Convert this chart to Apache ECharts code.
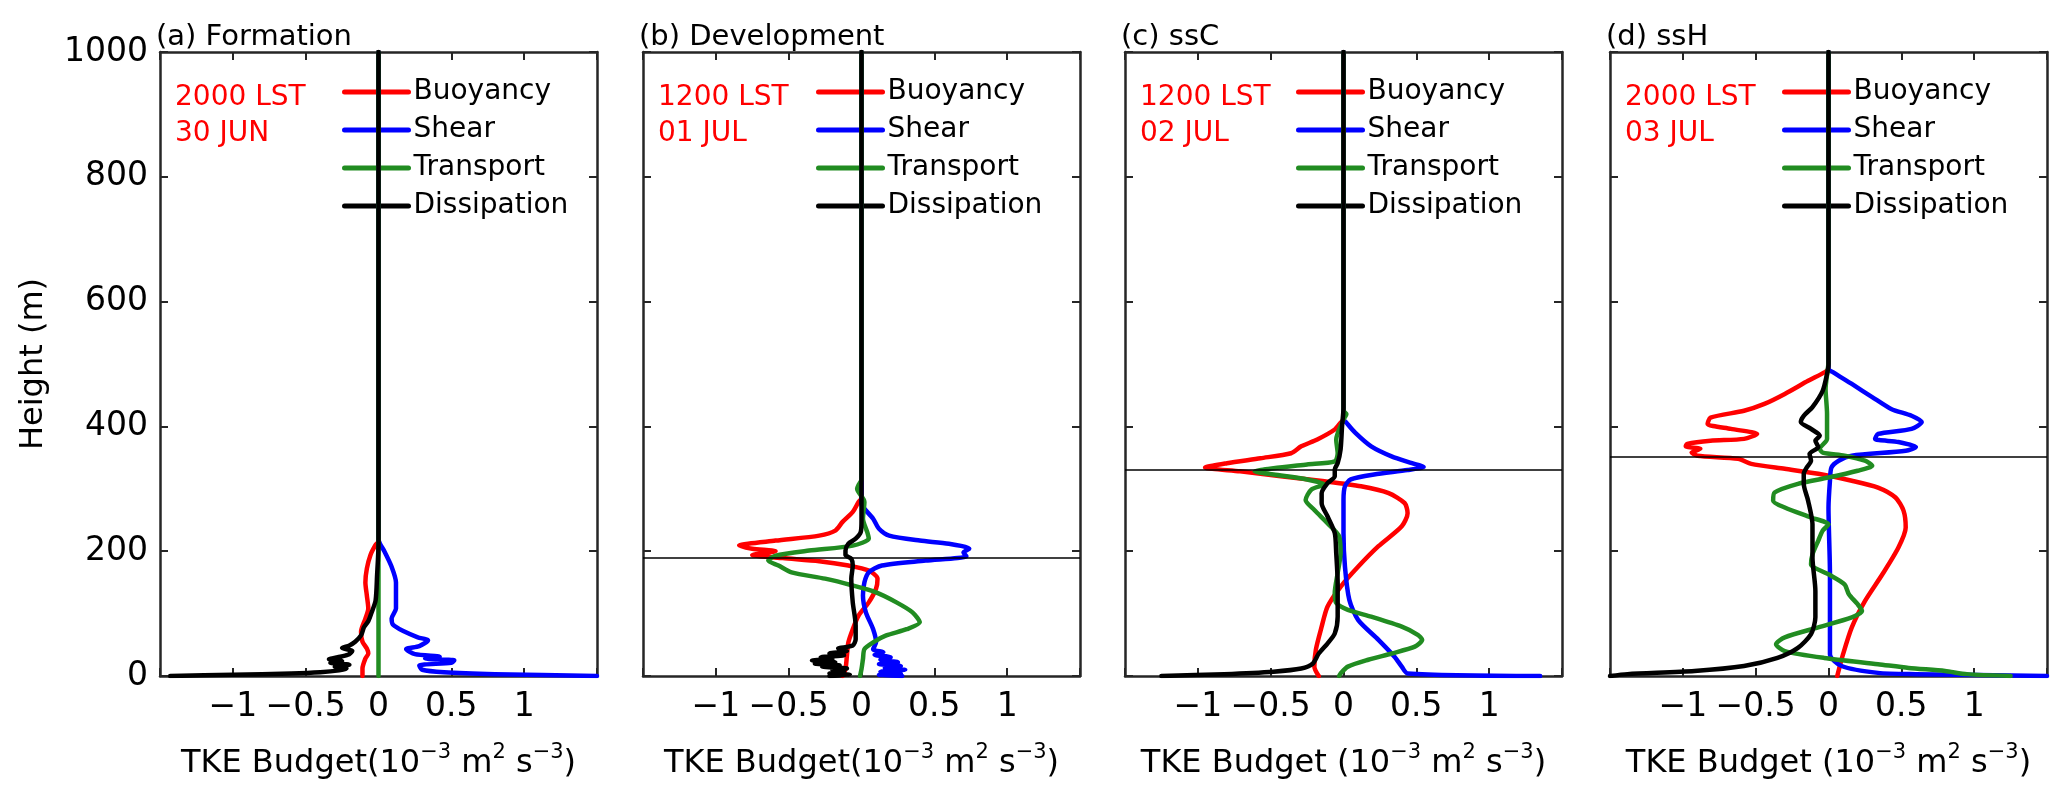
<!DOCTYPE html>
<html><head><meta charset="utf-8">
<script src="https://cdn.jsdelivr.net/npm/echarts@6/dist/echarts.min.js"></script>
<style>html,body{margin:0;padding:0;background:#fff}#c{width:2067px;height:802px}</style>
</head><body><div id="c"></div>
<script>
// ---------- data ----------
const panelTitles = ['(a) Formation', '(b) Development', '(c) ssC', '(d) ssH'];
const timeLabels = ['2000 LST\n30 JUN', '1200 LST\n01 JUL', '1200 LST\n02 JUL', '2000 LST\n03 JUL'];
const seriesNames = ['Buoyancy', 'Shear', 'Transport', 'Dissipation'];
const xTickLabels = [-1, -0.5, 0, 0.5, 1];
const yTickLabels = [0, 200, 400, 600, 800, 1000];
const pblHeights = [null, 189, 331, 352];
const xLabelSpaced = [false, false, true, true];

// [budget value (1e-3 m2 s-3), height (m)]
const aBuoyancy = [[-0.11,0],[-0.11,12],[-0.09,28],[-0.07,36],[-0.08,44],[-0.11,55],[-0.12,71],[-0.09,92],[-0.07,108],[-0.08,129],[-0.09,150],[-0.08,172],[-0.055,194],[-0.02,210],[0,216],[0,1000]];
const aShear = [[1.5,0],[0.8,3],[0.45,6],[0.3,10],[0.28,17],[0.5,21],[0.52,25],[0.32,28],[0.42,31],[0.25,35],[0.19,43],[0.28,48],[0.34,57],[0.27,62],[0.17,72],[0.1,82],[0.09,92],[0.12,108],[0.12,130],[0.12,150],[0.09,175],[0.04,200],[0.01,212],[0,220],[0,1000]];
const aTransport = [[0,0],[0,300],[0,1000]];
const aDissipation = [[-1.43,0],[-1.0,2],[-0.6,4],[-0.4,6],[-0.27,9],[-0.22,12],[-0.3,15],[-0.2,18],[-0.33,21],[-0.25,24],[-0.34,27],[-0.28,30],[-0.21,34],[-0.18,40],[-0.25,45],[-0.2,49],[-0.16,55],[-0.12,65],[-0.1,78],[-0.07,88],[-0.05,100],[-0.02,121],[-0.01,160],[0,212],[0,1000]];

const bBuoyancy = [[-0.13,0],[-0.11,11],[-0.1,33],[-0.09,54],[-0.06,75],[-0.02,97],[0.05,118],[0.10,140],[0.11,156],[0.05,169],[-0.09,177],[-0.29,184],[-0.54,189],[-0.75,194],[-0.59,200],[-0.75,204],[-0.84,209],[-0.59,217],[-0.29,225],[-0.18,233],[-0.13,247],[-0.06,263],[-0.02,279],[0,285],[0,1000]];
const bShear = [[0.28,0],[0.12,2],[0.27,4],[0.13,7],[0.3,10],[0.16,13],[0.27,16],[0.12,19],[0.25,22],[0.13,26],[0.2,30],[0.09,34],[0.15,38],[0.08,43],[0.10,54],[0.08,75],[0.03,102],[0.01,129],[0.02,150],[0.05,166],[0.14,177],[0.44,185],[0.72,192],[0.70,198],[0.74,204],[0.60,212],[0.40,217],[0.19,225],[0.12,236],[0.08,252],[0.02,268],[0,275],[0,1000]];
const bTransport = [[-0.01,0],[0,11],[0.01,27],[0.02,43],[0.08,54],[0.17,65],[0.31,75],[0.40,86],[0.35,102],[0.24,118],[0.10,134],[-0.06,145],[-0.25,156],[-0.48,166],[-0.57,177],[-0.64,185],[-0.59,193],[-0.36,201],[-0.06,209],[0.05,220],[0.04,230],[0.01,252],[0.02,279],[-0.03,300],[-0.02,306],[0,315],[0,1000]];
const bDissipation = [[-0.22,0],[-0.08,2],[-0.22,4],[-0.12,7],[-0.2,10],[-0.1,12],[-0.27,15],[-0.15,17],[-0.32,20],[-0.18,22],[-0.34,25],[-0.2,27],[-0.28,30],[-0.12,33],[-0.22,36],[-0.1,40],[-0.16,44],[-0.06,49],[-0.04,59],[-0.04,81],[-0.06,118],[-0.07,156],[-0.06,177],[-0.07,188],[-0.11,194],[-0.11,201],[-0.09,212],[-0.04,220],[-0.005,231],[0,250],[0,1000]];

const cBuoyancy = [[-0.17,0],[-0.20,15],[-0.19,42],[-0.15,79],[-0.11,111],[-0.02,143],[0.10,175],[0.24,208],[0.40,240],[0.44,261],[0.42,277],[0.31,293],[0.12,304],[-0.13,312],[-0.43,320],[-0.71,328],[-0.95,334],[-0.80,341],[-0.57,349],[-0.36,357],[-0.29,368],[-0.18,379],[-0.06,395],[-0.02,406],[0,412],[0,1000]];
const cShear = [[1.35,0],[0.44,4],[0.40,15],[0.35,31],[0.24,58],[0.10,90],[0.04,122],[0.01,175],[0,229],[0,282],[0.01,304],[0.05,315],[0.21,323],[0.44,330],[0.55,335],[0.47,341],[0.33,352],[0.19,368],[0.08,390],[0.02,406],[0,412],[0,1000]];
const cTransport = [[-0.03,0],[-0.02,4],[0.03,15],[0.17,26],[0.33,36],[0.49,47],[0.54,58],[0.51,66],[0.40,79],[0.19,95],[0.03,106],[-0.05,117],[-0.06,133],[-0.04,165],[-0.02,197],[-0.03,224],[-0.11,245],[-0.20,266],[-0.26,282],[-0.22,299],[-0.13,307],[-0.25,315],[-0.48,323],[-0.61,328],[-0.48,333],[-0.25,339],[-0.06,344],[-0.04,357],[-0.05,379],[0,411],[0.02,420],[0,425],[0,1000]];
const cDissipation = [[-1.25,0],[-0.82,3],[-0.48,7],[-0.29,12],[-0.21,20],[-0.17,36],[-0.11,52],[-0.06,68],[-0.04,95],[-0.04,149],[-0.05,197],[-0.06,229],[-0.11,256],[-0.15,277],[-0.15,293],[-0.11,309],[-0.06,320],[-0.06,331],[-0.04,341],[-0.02,363],[-0.01,400],[0,430],[0,1000]];

const dBuoyancy = [[0.06,0],[0.10,35],[0.16,78],[0.25,120],[0.37,163],[0.48,206],[0.53,238],[0.515,265],[0.46,286],[0.34,302],[0.16,313],[-0.07,324],[-0.30,332],[-0.53,340],[-0.62,348],[-0.90,353],[-0.94,358],[-0.88,364],[-0.98,368],[-0.97,372],[-0.81,377],[-0.58,380],[-0.49,388],[-0.67,396],[-0.83,404],[-0.81,414],[-0.58,425],[-0.44,436],[-0.30,452],[-0.14,473],[-0.025,487],[0,492],[0,1000]];
const dShear = [[1.5,0],[0.6,3],[0.34,5],[0.09,16],[0.01,35],[0.01,163],[0,270],[0.01,313],[0.02,334],[0.07,345],[0.16,353],[0.53,361],[0.60,367],[0.48,375],[0.32,380],[0.34,388],[0.57,396],[0.64,407],[0.57,417],[0.43,428],[0.30,447],[0.16,468],[0.03,487],[0,492],[0,1000]];
const dTransport = [[1.25,0],[0.95,3],[0.80,8],[0.55,13],[0.34,19],[-0.03,29],[-0.30,40],[-0.36,51],[-0.30,62],[-0.07,78],[0.16,94],[0.23,104],[0.20,115],[0.14,131],[0.11,147],[0,163],[-0.12,179],[-0.11,195],[-0.07,217],[-0.04,233],[0,243],[-0.12,254],[-0.30,270],[-0.38,281],[-0.37,294],[-0.21,308],[0,318],[0.20,329],[0.30,337],[0.25,345],[0.11,353],[-0.04,358],[-0.06,364],[-0.01,380],[-0.01,420],[-0.02,460],[0,505],[0,1000]];
const dDissipation = [[-1.5,0],[-1.38,3],[-0.92,8],[-0.58,16],[-0.35,29],[-0.21,45],[-0.12,67],[-0.09,94],[-0.09,136],[-0.11,190],[-0.11,243],[-0.14,281],[-0.17,308],[-0.17,324],[-0.15,334],[-0.12,345],[-0.13,356],[-0.07,367],[-0.09,377],[-0.06,385],[-0.12,396],[-0.19,407],[-0.17,417],[-0.11,431],[-0.04,457],[-0.01,484],[0,500],[0,1000]];

const panelData = [
  [aBuoyancy, aShear, aTransport, aDissipation],
  [bBuoyancy, bShear, bTransport, bDissipation],
  [cBuoyancy, cShear, cTransport, cDissipation],
  [dBuoyancy, dShear, dTransport, dDissipation]
];

// ---------- layout / style ----------
const FONT = 'DejaVu Sans';
const lineColors = ['#ff0000', '#0000ff', '#218c21', '#000000'];
const gridLeft = [160, 643, 1125, 1610];
const gridTop = 52, gridW = 437, gridH = 624;
const legendLeft = [342, 816, 1296, 1782];
const axisColor = '#262626';

function fmtTick(v) {
  if (!xTickLabels.includes(v)) return '';
  return v < 0 ? '\u2212' + Math.abs(v) : String(v);
}

const grids = [], xAxes = [], yAxes = [], series = [], titles = [], legends = [];
for (let i = 0; i < 4; i++) {
  grids.push({ left: gridLeft[i], top: gridTop, width: gridW, height: gridH });
  const common = {
    type: 'value', gridIndex: i, min: -1.5, max: 1.5, interval: 0.5,
    splitLine: { show: false },
    axisLine: { show: true, onZero: false, lineStyle: { color: axisColor, width: 2.5 } },
    axisTick: { show: true, inside: true, length: 8, lineStyle: { color: axisColor, width: 2 } }
  };
  const sp = xLabelSpaced[i] ? ' ' : '';
  xAxes.push(Object.assign({}, common, {
    position: 'bottom',
    axisLabel: { show: true, formatter: fmtTick, fontSize: 33, color: '#000', fontFamily: FONT, margin: 15, showMinLabel: true, showMaxLabel: true },
    name: '{n|TKE Budget' + sp + '(10}{s|\u22123}{n| m}{s|2}{n| s}{s|\u22123}{n|)}',
    nameLocation: 'middle', nameGap: 66,
    nameTextStyle: {
      rich: {
        n: { fontSize: 32, lineHeight: 44, color: '#000', fontFamily: FONT },
        s: { fontSize: 21, lineHeight: 16, verticalAlign: 'top', color: '#000', fontFamily: FONT }
      }
    }
  }));
  xAxes.push(Object.assign({}, common, { position: 'top', axisLabel: { show: false } }));
  const ycommon = {
    type: 'value', gridIndex: i, min: 0, max: 1000, interval: 200,
    splitLine: { show: false },
    axisLine: { show: true, onZero: false, lineStyle: { color: axisColor, width: 2.5 } },
    axisTick: { show: true, inside: true, length: 8, lineStyle: { color: axisColor, width: 2 } }
  };
  yAxes.push(Object.assign({}, ycommon, {
    position: 'left',
    axisLabel: { show: i === 0, fontSize: 33, color: '#000', fontFamily: FONT, margin: 12,
      formatter: v => yTickLabels.includes(v) ? String(v) : '' },
    name: i === 0 ? 'Height (m)' : '', nameLocation: 'middle', nameGap: 110,
    nameTextStyle: { fontSize: 32, color: '#000', fontFamily: FONT }
  }));
  yAxes.push(Object.assign({}, ycommon, { position: 'right', axisLabel: { show: false } }));

  for (let j = 0; j < 4; j++) {
    const s = {
      type: 'line', name: seriesNames[j], xAxisIndex: 2 * i, yAxisIndex: 2 * i,
      data: panelData[i][j], symbol: 'none', showSymbol: false, animation: false,
      smooth: 0.25,
      color: lineColors[j],
      lineStyle: { color: lineColors[j], width: 4.5, join: 'round', cap: 'round' },
      z: 2 + j * 0.01
    };
    if (j === 3 && pblHeights[i] !== null) {
      s.markLine = {
        silent: true, animation: false, symbol: ['none', 'none'],
        label: { show: false },
        lineStyle: { color: '#000', width: 1.5, type: 'solid' },
        data: [{ yAxis: pblHeights[i] }]
      };
    }
    series.push(s);
  }

  titles.push({
    text: panelTitles[i], left: gridLeft[i] - 4, top: 20, padding: 0,
    textStyle: { fontSize: 29, fontWeight: 'normal', color: '#000', fontFamily: FONT, lineHeight: 34 }
  });
  titles.push({
    text: timeLabels[i], left: gridLeft[i] + 15, top: 80, padding: 0,
    textStyle: { fontSize: 28, fontWeight: 'normal', color: '#ff0000', fontFamily: FONT, lineHeight: 36 }
  });
  legends.push({
    data: seriesNames, left: legendLeft[i], top: 77, orient: 'vertical', padding: 0,
    itemWidth: 64, itemHeight: 30, itemGap: 8, selectedMode: false, z: 1,
    itemStyle: { opacity: 0, borderWidth: 0 },
    lineStyle: { width: 5 },
    textStyle: { fontSize: 28, lineHeight: 30, color: '#000', fontFamily: FONT }
  });
}

const chart = echarts.init(document.getElementById('c'), null, { renderer: 'canvas' });
chart.setOption({
  backgroundColor: '#fff',
  animation: false,
  title: titles,
  legend: legends,
  grid: grids,
  xAxis: xAxes,
  yAxis: yAxes,
  series: series
});
</script>
</body></html>
